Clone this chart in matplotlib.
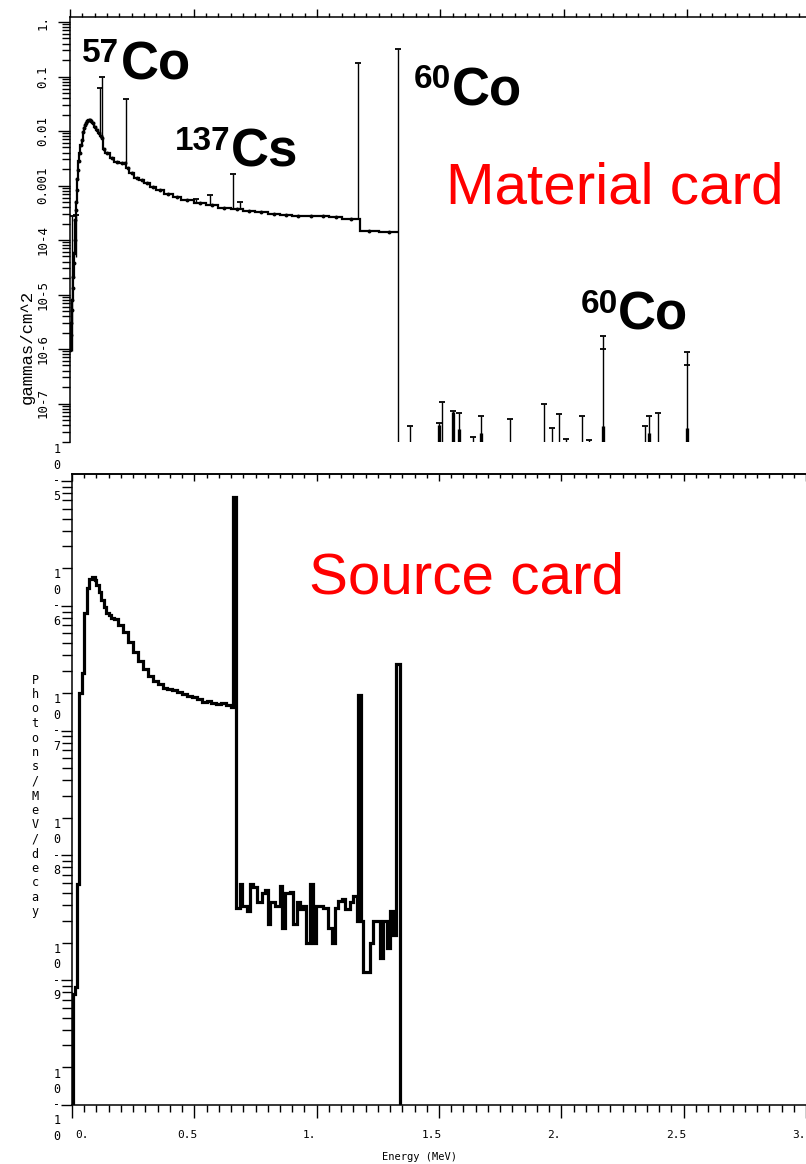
import matplotlib
matplotlib.use('Agg')
import matplotlib.pyplot as plt
import numpy as np
from matplotlib.transforms import blended_transform_factory, ScaledTranslation
from matplotlib.ticker import LogLocator, MultipleLocator, FixedLocator, NullFormatter

# ---------------- data: top panel (Material card) ----------------
top_edges = [0.000, 0.003, 0.005, 0.007, 0.009, 0.011, 0.013, 0.015, 0.017, 0.019,
             0.021, 0.023, 0.025, 0.027, 0.029, 0.031, 0.034, 0.038, 0.042, 0.047,
             0.051, 0.055, 0.059, 0.063, 0.067, 0.072, 0.078, 0.084, 0.090, 0.096,
             0.104, 0.113, 0.121, 0.128, 0.133, 0.142, 0.160, 0.180, 0.200, 0.218,
             0.228, 0.240, 0.260, 0.280, 0.300, 0.325, 0.350, 0.380, 0.415, 0.450,
             0.500, 0.550, 0.600, 0.650, 0.700, 0.750, 0.800, 0.850, 0.900, 0.950,
             1.000, 1.050, 1.100, 1.173, 1.250, 1.332]
top_vals = [9.6e-7, 1.8e-6, 3.0e-6, 5.2e-6, 8.0e-6, 1.3e-5, 2.1e-5, 3.8e-5, 5.8e-5, 1.0e-4,
            2.3e-4, 3.6e-4, 5.0e-4, 8.3e-4, 1.3e-3, 1.9e-3, 2.8e-3, 3.9e-3, 5.5e-3, 6.9e-3,
            9.5e-3, 1.13e-2, 1.3e-2, 1.4e-2, 1.5e-2, 1.58e-2, 1.62e-2, 1.52e-2, 1.4e-2, 1.2e-2,
            1.05e-2, 9.3e-3, 8.0e-3, 7.5e-3, 4.7e-3, 3.9e-3, 3.2e-3, 2.7e-3, 2.6e-3, 2.55e-3,
            2.1e-3, 1.7e-3, 1.4e-3, 1.25e-3, 1.1e-3, 9.5e-4, 8.3e-4, 7.0e-4, 6.1e-4, 5.5e-4,
            4.8e-4, 4.3e-4, 3.9e-4, 3.7e-4, 3.4e-4, 3.2e-4, 3.05e-4, 2.9e-4, 2.8e-4, 2.75e-4,
            2.7e-4, 2.6e-4, 2.45e-4, 1.46e-4, 1.38e-4]

# error bars (energy, lower end, upper end); lower end 0 means "down to zero"
err_E  = [0.008, 0.024, 0.121, 0.130, 0.227, 0.510, 0.567, 0.660, 0.690, 1.166, 1.328,
          1.377, 1.494, 1.506, 1.551, 1.575, 1.632, 1.664, 1.781, 1.919, 1.951,
          1.980, 2.008, 2.073, 2.101, 2.158, 2.328, 2.344, 2.381, 2.498]
err_lo = [9.0e-7, 4.9e-5, 9.0e-3, 7.5e-3, 2.6e-3, 5.0e-4, 4.5e-4, 3.9e-4, 3.7e-4, 2.45e-4, 0,
          0, 0, 0, 0, 0, 0, 0, 0, 0, 0,
          0, 0, 0, 0, 0, 0, 0, 0, 0]
err_hi = [2.7e-4, 2.9e-4, 6.1e-2, 1.0e-1, 3.8e-2, 5.6e-4, 6.7e-4, 1.6e-3, 5.0e-4, 0.177, 0.32,
          3.9e-8, 4.4e-8, 1.07e-7, 7.3e-8, 6.7e-8, 2.4e-8, 5.8e-8, 5.1e-8, 1.0e-7, 3.6e-8,
          6.5e-8, 2.2e-8, 5.8e-8, 2.1e-8, 1.7e-6, 3.9e-8, 5.8e-8, 6.7e-8, 8.7e-7]
# histogram bars above 1.33 MeV (energy, value)
bar_E = [1.493, 1.551, 1.575, 1.664, 2.158, 2.344, 2.498]
bar_V = [4.0e-8, 7.0e-8, 3.4e-8, 2.9e-8, 3.8e-8, 2.9e-8, 3.6e-8]
# central points on the two sum-peak error bars
pt_E = [2.158, 2.498]
pt_V = [1.0e-6, 5.1e-7]

top_yticks = [1e-7, 1e-6, 1e-5, 1e-4, 1e-3, 1e-2, 1e-1, 1.0]
top_ylabels = ['10-7', '10-6', '10-5', '10-4', '0.001', '0.01', '0.1', '1.']

# ---------------- data: bottom panel (Source card) ----------------
bot_edges = [0.003, 0.012, 0.020, 0.029, 0.041, 0.049, 0.061, 0.069, 0.080, 0.092,
             0.100, 0.110, 0.120, 0.130, 0.140, 0.150, 0.160, 0.170, 0.190, 0.210,
             0.230, 0.250, 0.270, 0.290, 0.310, 0.330, 0.350, 0.370, 0.390, 0.410,
             0.430, 0.450, 0.470, 0.490, 0.510, 0.530, 0.550, 0.570, 0.590, 0.610,
             0.630, 0.650, 0.658, 0.672, 0.687, 0.695, 0.715, 0.727, 0.740, 0.756,
             0.776, 0.789, 0.802, 0.809, 0.830, 0.850, 0.858, 0.871, 0.891, 0.904,
             0.920, 0.932, 0.945, 0.956, 0.973, 0.986, 0.997, 1.026, 1.046, 1.063,
             1.075, 1.087, 1.103, 1.116, 1.136, 1.148, 1.165, 1.170, 1.183, 1.189,
             1.218, 1.230, 1.259, 1.271, 1.287, 1.300, 1.312, 1.326, 1.340]
bot_vals = [7.7e-10, 8.9e-10, 5.9e-9, 2.0e-7, 2.9e-7, 8.8e-7, 1.39e-6, 1.65e-6, 1.7e-6, 1.6e-6,
            1.47e-6, 1.3e-6, 1.11e-6, 9.8e-7, 8.8e-7, 8.5e-7, 8.0e-7, 7.9e-7, 7.0e-7, 6.2e-7,
            5.1e-7, 4.3e-7, 3.6e-7, 3.1e-7, 2.75e-7, 2.5e-7, 2.35e-7, 2.2e-7, 2.15e-7, 2.1e-7,
            2.05e-7, 1.98e-7, 1.9e-7, 1.86e-7, 1.78e-7, 1.7e-7, 1.73e-7, 1.66e-7, 1.63e-7, 1.66e-7,
            1.6e-7, 1.54e-7, 7.4e-6, 3.8e-9, 5.9e-9, 3.9e-9, 3.6e-9, 5.9e-9, 5.6e-9, 4.2e-9,
            5.0e-9, 5.3e-9, 2.8e-9, 4.2e-9, 3.9e-9, 5.7e-9, 2.6e-9, 5.0e-9, 5.1e-9, 2.8e-9,
            4.2e-9, 3.7e-9, 3.9e-9, 2.0e-9, 5.9e-9, 2.0e-9, 3.9e-9, 3.8e-9, 2.6e-9, 2.0e-9,
            3.8e-9, 4.3e-9, 4.5e-9, 3.7e-9, 4.2e-9, 4.7e-9, 3.0e-9, 1.94e-7, 3.0e-9, 1.16e-9,
            2.0e-9, 3.0e-9, 1.5e-9, 3.0e-9, 1.8e-9, 3.6e-9, 2.3e-9, 3.4e-7]

bot_xticks = [0.0, 0.5, 1.0, 1.5, 2.0, 2.5, 3.0]
bot_xlabels = ['0.', '0.5', '1.', '1.5', '2.', '2.5', '3.']
bot_exps = [5, 6, 7, 8, 9, 10]

# ---------------- figure ----------------
W, H = 806, 1164
fig = plt.figure(figsize=(W / 100, H / 100), dpi=100)

def fx(x):
    return x / W

def fy(y):
    return 1 - y / H

MONO = 'DejaVu Sans Mono'
FLOOR = 1e-13

# ---- top axes ----
ax1 = fig.add_axes([fx(70), fy(442), 1 - fx(70), fy(17) - fy(442)])
ax1.set_yscale('log')
ax1.set_xlim(0, 736 / 247)
ax1.set_ylim(10 ** (-420 / 54.5), 10 ** (5 / 54.5))
for s in ['right', 'bottom']:
    ax1.spines[s].set_visible(False)
for s in ['left', 'top']:
    ax1.spines[s].set_linewidth(1.1)

te = np.array(top_edges)
tv = np.array(top_vals)
ax1.stairs(tv, te, baseline=None, color='k', lw=1.6)
centers = 0.5 * (te[:-1] + te[1:])
ax1.plot(centers, tv, ls='none', marker='o', ms=1.8, color='k')

lo = np.array(err_lo, dtype=float)
lo = np.where(lo > 0, lo, FLOOR)
ax1.vlines(err_E, lo, err_hi, color='k', lw=1.0)
ax1.plot(err_E, err_hi, ls='none', marker='_', ms=5, mew=1.3, color='k')
ax1.vlines(bar_E, FLOOR, bar_V, color='k', lw=2.4)
ax1.plot(pt_E, pt_V, ls='none', marker='_', ms=4, mew=1.3, color='k')

ax1.xaxis.set_ticks_position('top')
ax1.xaxis.set_major_locator(MultipleLocator(0.5))
ax1.xaxis.set_minor_locator(MultipleLocator(0.05))
ax1.tick_params(axis='x', which='both', direction='out', labeltop=False, labelbottom=False,
                bottom=False, top=True, width=1.0)
ax1.tick_params(axis='x', which='major', length=6)
ax1.tick_params(axis='x', which='minor', length=3)
ax1.yaxis.set_major_locator(FixedLocator(top_yticks))
ax1.yaxis.set_minor_locator(LogLocator(base=10, subs=np.arange(2, 10), numticks=30))
ax1.yaxis.set_minor_formatter(NullFormatter())
ax1.set_yticklabels(top_ylabels, rotation=90, va='center', fontfamily=MONO, fontsize=9)
ax1.tick_params(axis='y', which='both', direction='out', right=False, width=1.0, pad=6)
ax1.tick_params(axis='y', which='major', length=9)
ax1.tick_params(axis='y', which='minor', length=6)

fig.text(fx(27), fy(347), 'gammas/cm^2', rotation=90, ha='center', va='center',
         fontfamily='Liberation Mono', fontsize=12.5)

# ---- bottom axes ----
ax2 = fig.add_axes([fx(72), fy(1105), 1 - fx(72), fy(474) - fy(1105)])
ax2.set_yscale('log')
ax2.set_xlim(0, 3.0)
ax2.set_ylim(1e-10, 10 ** (-5 + 7 / 125))
ax2.spines['right'].set_visible(False)
for s in ['left', 'top', 'bottom']:
    ax2.spines[s].set_linewidth(1.1)

ax2.stairs(np.array(bot_vals), np.array(bot_edges), baseline=FLOOR, color='k', lw=2.3)

ax2.xaxis.set_major_locator(MultipleLocator(0.5))
ax2.xaxis.set_minor_locator(MultipleLocator(0.05))
ax2.tick_params(axis='x', which='both', direction='out', labelbottom=False, top=False, width=1.0)
ax2.tick_params(axis='x', which='major', length=9)
ax2.tick_params(axis='x', which='minor', length=5)
sec = ax2.secondary_xaxis('top')
sec.xaxis.set_major_locator(MultipleLocator(0.5))
sec.xaxis.set_minor_locator(MultipleLocator(0.05))
sec.tick_params(axis='x', which='both', direction='in', labeltop=False, width=1.0)
sec.tick_params(axis='x', which='major', length=5)
sec.tick_params(axis='x', which='minor', length=3)
sec.spines['top'].set_linewidth(1.1)

ax2.yaxis.set_major_locator(LogLocator(base=10, numticks=20))
ax2.yaxis.set_minor_locator(LogLocator(base=10, subs=np.arange(2, 10), numticks=30))
ax2.yaxis.set_minor_formatter(NullFormatter())
ax2.tick_params(axis='y', which='both', direction='out', labelleft=False, right=False, width=1.0)
ax2.tick_params(axis='y', which='major', length=8)
ax2.tick_params(axis='y', which='minor', length=7)

# stacked y tick labels
btr = blended_transform_factory(fig.transFigure, ax2.transData)
for e in bot_exps:
    chars = list('10-' + str(e))
    if len(chars) == 4:
        chars.append(' ')
    ax2.text(fx(57), 10.0 ** (-e), '\n'.join(chars), transform=btr, ha='center', va='center',
             fontfamily=MONO, fontsize=8.5, linespacing=1.25, clip_on=False)

# x tick labels
xtr = blended_transform_factory(ax2.transData, fig.transFigure)
for v, lab in zip(bot_xticks, bot_xlabels):
    off = 10 if v == 0 else -7
    t = xtr + ScaledTranslation(off / 100, 0, fig.dpi_scale_trans)
    ax2.text(v, fy(1135), lab, transform=t, ha='center', va='center',
             fontfamily=MONO, fontsize=8, clip_on=False)

fig.text(fx(420), fy(1157), 'Energy (MeV)', ha='center', va='center', fontfamily=MONO, fontsize=7.5)
fig.text(fx(35), fy(796), '\n'.join('Photons/MeV/decay'), ha='center', va='center',
         fontfamily=MONO, fontsize=8.5, linespacing=1.15)

# ---- annotations ----
BOLD = dict(fontfamily='Liberation Sans', fontweight='bold', color='k')
def iso(xs, ys, xe, ye, mass, sym):
    fig.text(fx(xs), fy(ys), mass, ha='left', va='baseline', fontsize=24, **BOLD)
    fig.text(fx(xe), fy(ye), sym, ha='left', va='baseline', fontsize=38, **BOLD)

iso(82, 62, 121, 79, '57', 'Co')
iso(175, 150, 231, 167, '137', 'Cs')
iso(414, 88, 452, 105, '60', 'Co')
iso(581, 313, 618, 329, '60', 'Co')

fig.text(fx(446), fy(203), 'Material card', ha='left', va='baseline', color='#ff0000',
         fontfamily='Liberation Sans', fontsize=42)
fig.text(fx(309), fy(594), 'Source card', ha='left', va='baseline', color='#ff0000',
         fontfamily='Liberation Sans', fontsize=42)

fig.savefig('out.png', dpi=100)
